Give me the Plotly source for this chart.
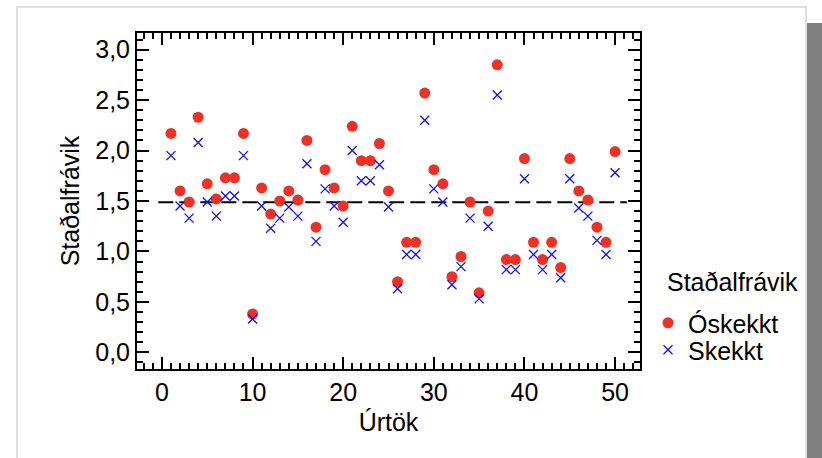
import plotly.graph_objects as go

# ---- data ----
urtak = list(range(1, 51))
oskekkt = [2.17, 1.60, 1.49, 2.33, 1.67, 1.52, 1.73, 1.73, 2.17, 0.38,
           1.63, 1.37, 1.50, 1.60, 1.51, 2.10, 1.24, 1.81, 1.63, 1.45,
           2.24, 1.90, 1.90, 2.07, 1.60, 0.70, 1.09, 1.09, 2.57, 1.81,
           1.67, 0.75, 0.95, 1.49, 0.59, 1.40, 2.85, 0.92, 0.92, 1.92,
           1.09, 0.92, 1.09, 0.84, 1.92, 1.60, 1.51, 1.24, 1.09, 1.99]
skekkt = [1.95, 1.45, 1.33, 2.08, 1.49, 1.35, 1.55, 1.55, 1.95, 0.33,
          1.45, 1.23, 1.33, 1.44, 1.35, 1.87, 1.10, 1.62, 1.45, 1.29,
          2.00, 1.70, 1.70, 1.86, 1.44, 0.63, 0.97, 0.97, 2.30, 1.62,
          1.49, 0.67, 0.85, 1.33, 0.53, 1.25, 2.55, 0.82, 0.82, 1.72,
          0.97, 0.82, 0.97, 0.74, 1.72, 1.43, 1.35, 1.11, 0.97, 1.78]
vidmid_x = [-0.4, 51.3]
vidmid_y = [1.487, 1.487]
x_ticks = [0, 10, 20, 30, 40, 50]
y_ticks = [0, 0.5, 1, 1.5, 2, 2.5, 3]
x_range = [-2.75, 52.75]
y_range = [-0.165, 3.165]

FONT = "Liberation Sans, Arial, sans-serif"
FS = 25
W, H = 822, 458
L, R, T, B = 137, 182, 33, 89
pw, ph = W - L - R, H - T - B

def px(x):
    return (x - L) / pw

def py(y):
    return (H - B - y) / ph

fig = go.Figure()
fig.add_trace(go.Scatter(x=vidmid_x, y=vidmid_y, mode="lines",
                         line=dict(color="black", width=2, dash="15px,6px"),
                         showlegend=False, hoverinfo="skip"))
fig.add_trace(go.Scatter(x=urtak, y=oskekkt, mode="markers", name="Óskekkt",
                         legend="legend",
                         marker=dict(symbol="circle", size=11, color="#EE3124",
                                     line=dict(width=0))))
fig.add_trace(go.Scatter(x=urtak, y=skekkt, mode="markers", name="Skekkt",
                         legend="legend2",
                         marker=dict(symbol="x-thin-open", size=9, color="#1010F0",
                                     line=dict(width=1.3, color="#1010F0"))))

axis_common = dict(showline=True, linecolor="black", linewidth=2, mirror="ticks",
                   ticks="inside", tickcolor="black", tickwidth=2, ticklen=12,
                   showgrid=False, zeroline=False,
                   tickfont=dict(family=FONT, size=FS, color="black"))

fig.update_xaxes(range=x_range, tickvals=x_ticks,
                 minor=dict(dtick=1, tick0=0, ticks="inside", ticklen=6,
                            tickwidth=1.5, tickcolor="black", showgrid=False),
                 title=dict(text="Úrtök", font=dict(family=FONT, size=FS, color="black"),
                            standoff=8),
                 **axis_common)
fig.update_yaxes(range=y_range, tickvals=y_ticks, tickformat=".1f",
                 minor=dict(dtick=0.1, tick0=0, ticks="inside", ticklen=6,
                            tickwidth=1.5, tickcolor="black", showgrid=False),
                 title=dict(text="Staðalfrávik", font=dict(family=FONT, size=FS, color="black"),
                            standoff=8),
                 **axis_common)

shapes = [
    dict(type="rect", xref="paper", yref="paper", x0=px(17), x1=px(806), y0=py(470), y1=py(7),
         line=dict(color="#E0E0E0", width=2), fillcolor="rgba(0,0,0,0)", layer="below"),
    dict(type="rect", xref="paper", yref="paper", x0=px(807), x1=px(830), y0=py(470), y1=py(23),
         line=dict(width=0), fillcolor="#808080", layer="below"),
]

annotations = [
    dict(text="Staðalfrávik", xref="paper", yref="paper", x=px(665), y=py(282),
         xanchor="left", yanchor="middle", showarrow=False,
         font=dict(family=FONT, size=FS, color="black")),
]

leg_common = dict(xanchor="left", yanchor="top",
                  font=dict(family=FONT, size=FS, color="black"),
                  bgcolor="rgba(0,0,0,0)", itemwidth=30)

fig.update_layout(
    width=W, height=H, margin=dict(l=L, r=R, t=T, b=B, autoexpand=False),
    paper_bgcolor="white", plot_bgcolor="white",
    separators=",.",
    shapes=shapes, annotations=annotations,
    legend=dict(x=px(648), y=py(300), **leg_common),
    legend2=dict(x=px(648), y=py(327), **leg_common),
    font=dict(family=FONT, color="black"),
)

fig.write_html("out.html", config={"displayModeBar": False},
               post_script="document.body.style.margin='0px';")
